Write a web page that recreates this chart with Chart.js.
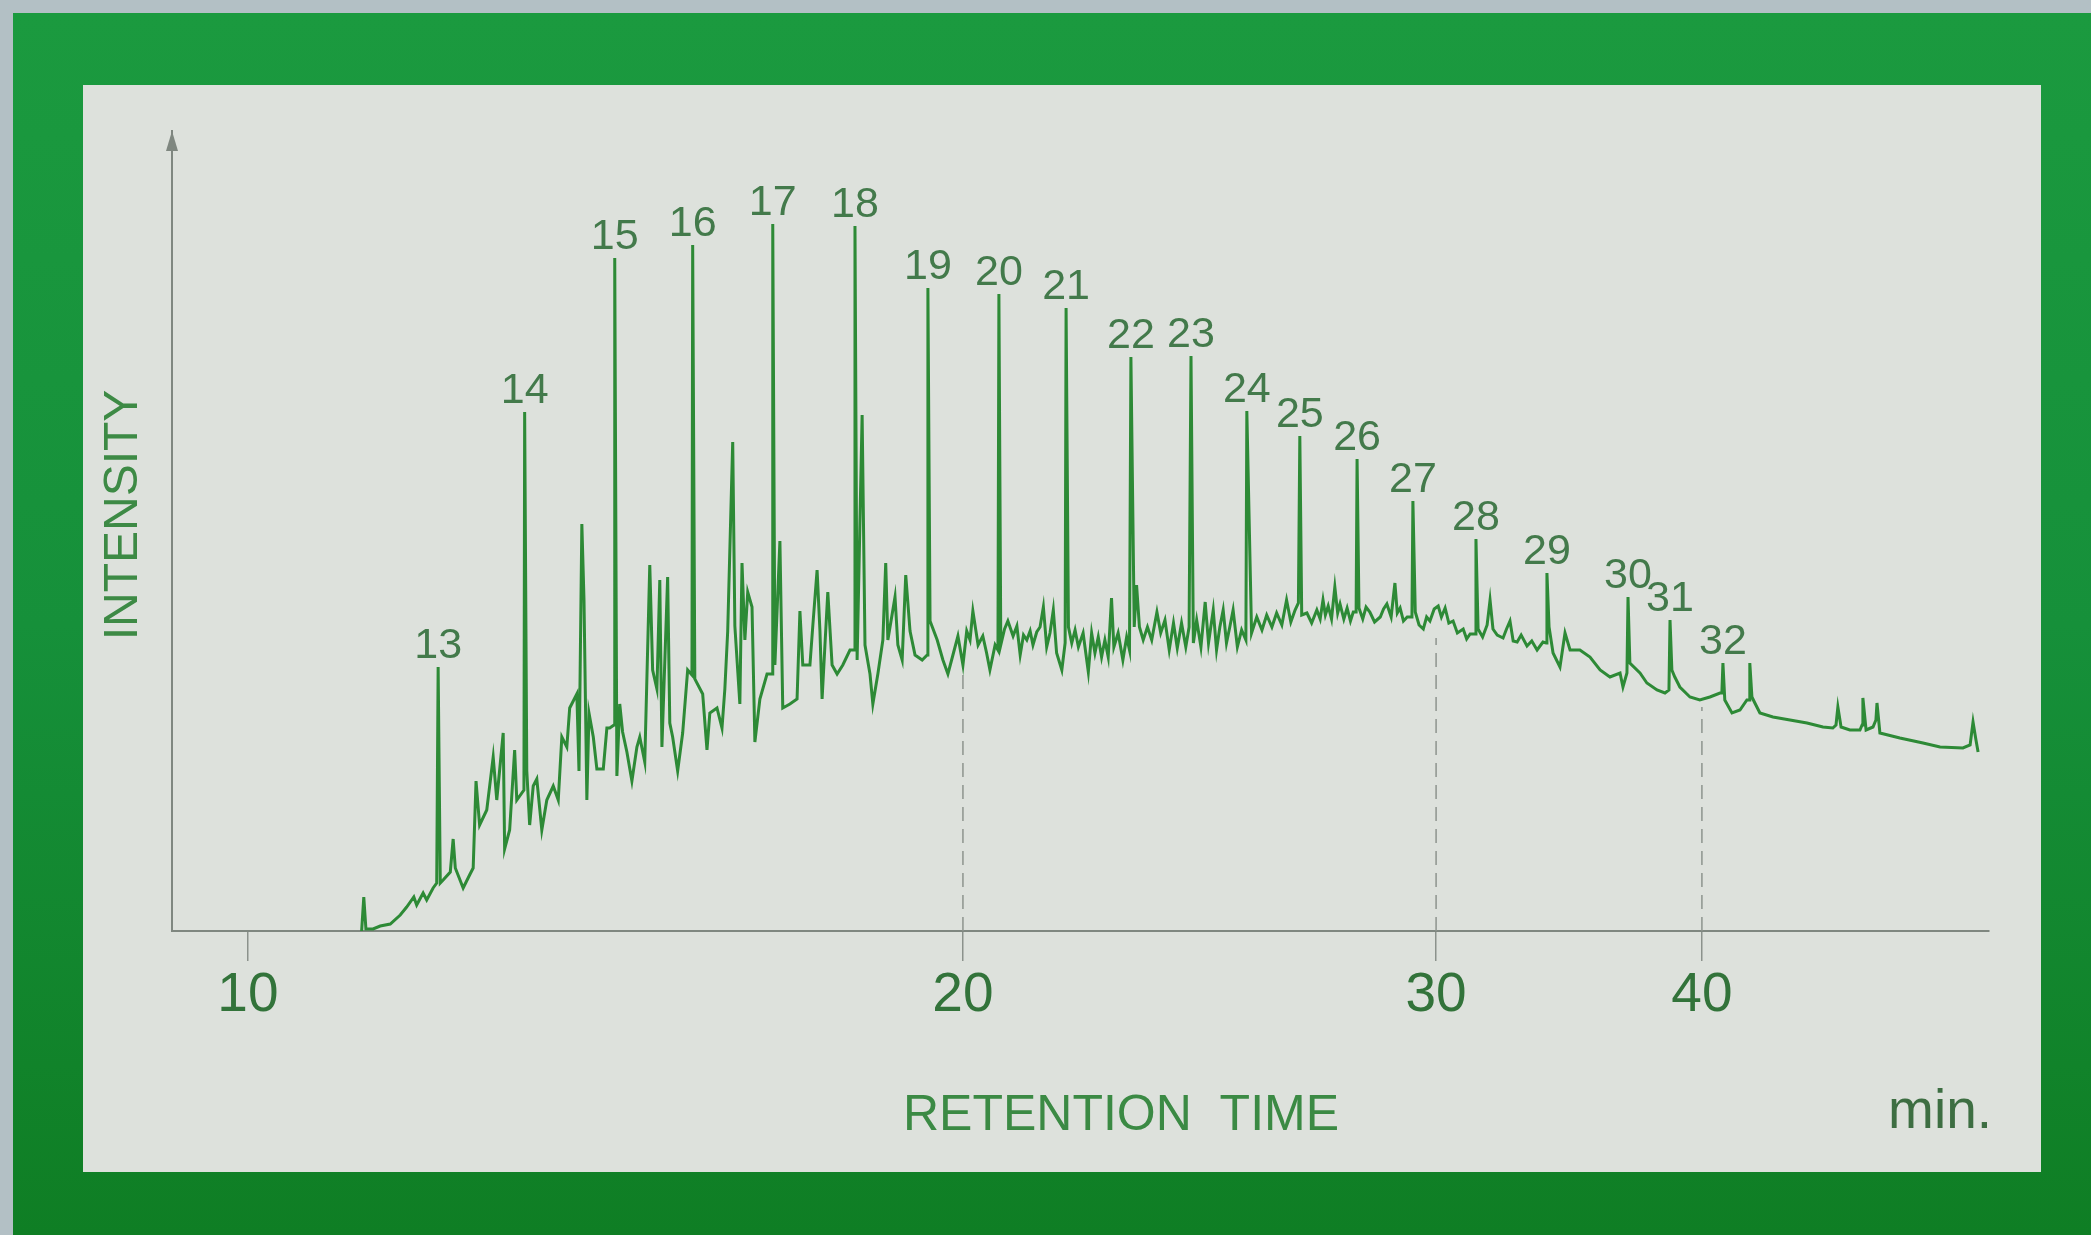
<!DOCTYPE html>
<html lang="en">
<head>
<meta charset="UTF-8">
<title>Retention time chromatogram</title>
<script src="https://cdn.jsdelivr.net/npm/chart.js"></script>
<style>
  html, body { margin: 0; padding: 0; }
  body { width: 2091px; height: 1235px; background: #b3c0c5; position: relative; overflow: hidden; }
  .frame { position: absolute; left: 13px; top: 13px; width: 2078px; height: 1222px;
           background: linear-gradient(#1b9a3f, #16903a 50%, #0f7e24); }
  .panel { position: absolute; left: 83px; top: 85px; width: 1958px; height: 1087px; background: #dde1dc; }
  canvas { position: absolute; left: 0; top: 0; }
</style>
</head>
<body>
<div class="frame"></div>
<div class="panel">
  <canvas id="chromatogram" width="1958" height="1087"></canvas>
</div>

<script>
// trace: retention time (min) and detector signal (arbitrary units)
const retentionTime = [
  11.59, 11.62, 11.65, 11.75, 11.85, 11.99, 12.13, 12.22, 12.32, 12.36,
  12.45, 12.50, 12.59, 12.64, 12.66, 12.69, 12.73, 12.83, 12.87, 12.90,
  13.01, 13.10, 13.15, 13.19, 13.24, 13.34, 13.43, 13.48, 13.57, 13.59,
  13.66, 13.73, 13.76, 13.86, 13.87, 13.90, 13.94, 13.99, 14.04, 14.11,
  14.18, 14.27, 14.34, 14.39, 14.46, 14.50, 14.60, 14.63, 14.67, 14.70,
  14.74, 14.77, 14.83, 14.88, 14.97, 15.02, 15.06, 15.12, 15.13, 15.16,
  15.20, 15.24, 15.30, 15.37, 15.44, 15.48, 15.55, 15.62, 15.66, 15.72,
  15.76, 15.79, 15.87, 15.90, 15.94, 16.01, 16.08, 16.15, 16.21, 16.22,
  16.25, 16.36, 16.42, 16.46, 16.56, 16.63, 16.67, 16.71, 16.78, 16.81,
  16.88, 16.91, 16.95, 16.99, 17.05, 17.09, 17.16, 17.26, 17.33, 17.34,
  17.37, 17.44, 17.48, 17.58, 17.68, 17.72, 17.76, 17.86, 17.90, 17.96,
  18.00, 18.03, 18.07, 18.11, 18.17, 18.24, 18.32, 18.42, 18.48, 18.49,
  18.52, 18.59, 18.63, 18.70, 18.74, 18.81, 18.88, 18.92, 18.95, 19.05,
  19.09, 19.15, 19.20, 19.26, 19.33, 19.43, 19.50, 19.51, 19.54, 19.64,
  19.72, 19.79, 19.86, 19.93, 20.00, 20.08, 20.15, 20.21, 20.32, 20.42,
  20.50, 20.57, 20.68, 20.74, 20.76, 20.80, 20.88, 20.95, 21.06, 21.14,
  21.21, 21.28, 21.35, 21.42, 21.48, 21.56, 21.63, 21.70, 21.77, 21.84,
  21.91, 21.98, 22.09, 22.16, 22.18, 22.23, 22.30, 22.37, 22.44, 22.54,
  22.65, 22.72, 22.79, 22.86, 22.93, 23.00, 23.07, 23.14, 23.19, 23.28,
  23.38, 23.46, 23.52, 23.55, 23.62, 23.67, 23.73, 23.81, 23.90, 23.99,
  24.10, 24.18, 24.27, 24.36, 24.45, 24.53, 24.62, 24.71, 24.78, 24.82,
  24.87, 24.94, 25.03, 25.12, 25.19, 25.29, 25.36, 25.43, 25.50, 25.57,
  25.64, 25.71, 25.80, 25.89, 25.98, 26.00, 26.10, 26.21, 26.32, 26.42,
  26.53, 26.63, 26.74, 26.84, 26.93, 27.02, 27.09, 27.12, 27.16, 27.27,
  27.37, 27.48, 27.55, 27.61, 27.66, 27.72, 27.79, 27.86, 27.92, 27.97,
  28.05, 28.12, 28.19, 28.25, 28.31, 28.33, 28.37, 28.45, 28.52, 28.60,
  28.70, 28.82, 28.89, 28.96, 29.05, 29.13, 29.18, 29.24, 29.31, 29.39,
  29.49, 29.51, 29.56, 29.64, 29.73, 29.80, 29.87, 29.96, 30.08, 30.20,
  30.34, 30.48, 30.64, 30.80, 31.02, 31.15, 31.28, 31.47, 31.50, 31.58,
  31.75, 31.92, 32.03, 32.14, 32.30, 32.52, 32.65, 32.78, 32.90, 33.05,
  33.20, 33.42, 33.60, 33.80, 34.02, 34.14, 34.17, 34.25, 34.40, 34.66,
  34.85, 35.04, 35.41, 35.79, 36.17, 36.54, 36.92, 37.03, 37.18, 37.22,
  37.29, 37.67, 37.93, 38.31, 38.61, 38.76, 38.80, 38.87, 38.98, 39.17,
  39.55, 39.92, 40.30, 40.68, 40.75, 40.79, 40.86, 41.13, 41.43, 41.69,
  41.77, 41.80, 41.88, 41.99, 42.18, 42.67, 43.31, 43.95, 44.55, 44.92,
  45.04, 45.11, 45.23, 45.56, 45.94, 46.02, 46.05, 46.17, 46.43, 46.54,
  46.58, 46.69, 47.44, 48.31, 48.95, 49.81, 50.08, 50.19, 50.30, 50.38
];
const intensity = [
  0, 34, 2, 2, 5, 7, 16, 24, 34, 26,
  38, 31, 43, 48, 264, 48, 51, 59, 92, 63,
  43, 56, 63, 150, 106, 121, 174, 131, 198, 82,
  101, 181, 131, 141, 519, 160, 106, 145, 152, 101,
  131, 145, 131, 194, 184, 223, 237, 160, 407, 331,
  131, 218, 194, 162, 162, 203, 203, 206, 673, 155,
  227, 199, 179, 150, 184, 194, 169, 366, 261, 242,
  351, 184, 354, 208, 194, 160, 198, 261, 256, 686,
  252, 237, 181, 218, 223, 203, 242, 300, 489, 305,
  227, 368, 291, 339, 324, 189, 232, 257, 257, 707,
  266, 390, 223, 227, 232, 320, 266, 266, 305, 361,
  300, 232, 286, 339, 266, 257, 266, 281, 281, 705,
  271, 516, 286, 257, 227, 257, 291, 368, 291, 334,
  286, 271, 356, 300, 276, 271, 276, 643, 310, 291,
  271, 257, 276, 295, 266, 300, 291, 320, 286, 295,
  278, 261, 286, 281, 637, 286, 302, 310, 295, 305,
  276, 296, 291, 300, 286, 299, 304, 324, 284, 298,
  321, 278, 261, 288, 623, 304, 288, 301, 284, 298,
  259, 298, 278, 294, 274, 291, 274, 333, 284, 298,
  271, 294, 281, 574, 304, 346, 304, 291, 304, 291,
  319, 298, 311, 281, 308, 283, 308, 284, 304, 575,
  288, 311, 284, 329, 288, 321, 281, 304, 321, 288,
  304, 321, 284, 301, 291, 520, 298, 314, 301, 316,
  304, 318, 306, 331, 309, 321, 328, 495, 316, 318,
  308, 321, 312, 331, 316, 325, 312, 344, 318, 327,
  312, 323, 310, 319, 319, 472, 323, 312, 324, 319,
  309, 314, 322, 327, 314, 348, 318, 323, 310, 314,
  314, 430, 319, 306, 302, 314, 310, 322, 325, 314,
  323, 308, 310, 298, 302, 292, 297, 297, 392, 302,
  294, 306, 331, 302, 296, 293, 302, 310, 290, 289,
  296, 285, 290, 281, 289, 288, 358, 304, 278, 264,
  298, 281, 281, 274, 261, 254, 258, 244, 258, 334,
  268, 258, 248, 241, 238, 241, 311, 261, 254, 244,
  234, 231, 234, 238, 238, 268, 231, 218, 221, 231,
  231, 268, 234, 228, 218, 214, 211, 208, 204, 203,
  206, 224, 204, 201, 201, 206, 233, 201, 204, 211,
  228, 198, 193, 188, 184, 183, 186, 209, 191, 179
];

// labelled n-alkane peaks (carbon number), apex time and height
const peakCarbon = [13, 14, 15, 16, 17, 18, 19, 20, 21, 22, 23, 24, 25, 26, 27, 28, 29, 30, 31, 32];
const peakTime = [12.66, 13.87, 15.13, 16.22, 17.34, 18.49, 19.51, 20.76, 22.18, 23.55,
                  24.82, 26.00, 27.12, 28.33, 29.51, 31.50, 34.17, 37.22, 38.80, 40.79];
const peakHeight = [264, 519, 673, 686, 707, 705, 643, 637, 623, 574,
                    575, 520, 495, 472, 430, 392, 358, 334, 311, 268];

// axis ticks, and the dashed guides rising from 20, 30 and 40 min
const tickTimes = [10, 20, 30, 40];
const guideTimes = [20, 30, 40];
const guideHeight = [261, 293, 224];

// the printed time axis is not linear: where each time sits along it (0 = left end, 1 = right end)
const axisTime = [8.94, 10, 20, 30, 40, 50.79];
const axisFrac = [0, 0.0418, 0.4353, 0.6957, 0.8420, 1];

function lerpKnots(v, from, to) {
  let i = 1;
  while (i < from.length - 1 && v > from[i]) i++;
  const k = (v - from[i - 1]) / (from[i] - from[i - 1]);
  return to[i - 1] + k * (to[i] - to[i - 1]);
}

// linear scale whose value->pixel mapping follows the printed axis
class WarpedTimeScale extends Chart.LinearScale {
  getPixelForValue(v) {
    return this.getPixelForDecimal(lerpKnots(v, axisTime, axisFrac));
  }
  getValueForPixel(p) {
    return lerpKnots(this.getDecimalForPixel(p), axisFrac, axisTime);
  }
}
WarpedTimeScale.id = 'warpedTime';
WarpedTimeScale.defaults = {};
Chart.register(WarpedTimeScale);

const FONT = '"Liberation Sans", Arial, sans-serif';
const AXIS_GREY = '#7f8780';

// labels, axis titles and the arrow head on the intensity axis
const decorations = {
  id: 'decorations',
  afterDraw(chart) {
    const { ctx, chartArea: a, scales: { x, y } } = chart;
    ctx.save();

    ctx.fillStyle = AXIS_GREY;
    ctx.beginPath();
    ctx.moveTo(a.left, a.top);
    ctx.lineTo(a.left - 6, a.top + 20);
    ctx.lineTo(a.left + 6, a.top + 20);
    ctx.closePath();
    ctx.fill();

    ctx.font = '43px ' + FONT;
    ctx.fillStyle = '#437a4b';
    ctx.textAlign = 'center';
    ctx.textBaseline = 'alphabetic';
    peakCarbon.forEach((c, i) => {
      ctx.fillText(String(c), x.getPixelForValue(peakTime[i]), y.getPixelForValue(peakHeight[i]) - 9);
    });

    ctx.font = '50px ' + FONT;
    ctx.fillStyle = '#3b8a44';
    ctx.fillText('RETENTION  TIME', a.left + 949, a.bottom + 199);

    ctx.font = '55px ' + FONT;
    ctx.fillStyle = '#3d6e42';
    ctx.textAlign = 'right';
    ctx.fillText('min.', a.right + 3, a.bottom + 197);

    ctx.translate(a.left - 48, (a.top + a.bottom) / 2 - 16);
    ctx.rotate(-Math.PI / 2);
    ctx.font = '48px ' + FONT;
    ctx.fillStyle = '#3d8a45';
    ctx.textAlign = 'center';
    ctx.textBaseline = 'middle';
    ctx.fillText('INTENSITY', 0, 0);

    ctx.restore();
  }
};

const trace = retentionTime.map((t, i) => ({ x: t, y: intensity[i] }));
const guides = guideTimes.map((t, i) => ({
  data: [{ x: t, y: 0 }, { x: t, y: guideHeight[i] }],
  borderColor: '#8d948e',
  borderWidth: 1.5,
  borderDash: [14, 8]
}));

new Chart(document.getElementById('chromatogram'), {
  type: 'line',
  data: {
    datasets: [
      { data: trace, borderColor: '#2d8a36', borderWidth: 3 },
      ...guides
    ]
  },
  options: {
    responsive: false,
    animation: false,
    devicePixelRatio: 1,
    layout: { padding: { left: 89, right: 52, top: 46, bottom: 121 } },
    elements: { point: { radius: 0 }, line: { tension: 0 } },
    plugins: { legend: { display: false }, tooltip: { enabled: false } },
    scales: {
      x: {
        type: 'warpedTime',
        min: 8.94,
        max: 50.79,
        afterBuildTicks: s => { s.ticks = tickTimes.map(v => ({ value: v })); },
        afterFit: s => { s.height = 120; },
        grid: { drawOnChartArea: false, drawTicks: true, tickLength: 30, color: '#8b928c', lineWidth: 1.5 },
        border: { display: true, color: AXIS_GREY, width: 2 },
        ticks: {
          padding: 2,
          color: '#32733a',
          font: { family: FONT, size: 55 },
          maxRotation: 0,
          autoSkip: false,
          callback: v => String(v)
        }
      },
      y: {
        min: 0,
        max: 800,
        afterFit: s => { s.width = 0; },
        grid: { display: false },
        ticks: { display: false },
        border: { display: true, color: AXIS_GREY, width: 2 }
      }
    }
  },
  plugins: [decorations]
});
</script>
</body>
</html>
